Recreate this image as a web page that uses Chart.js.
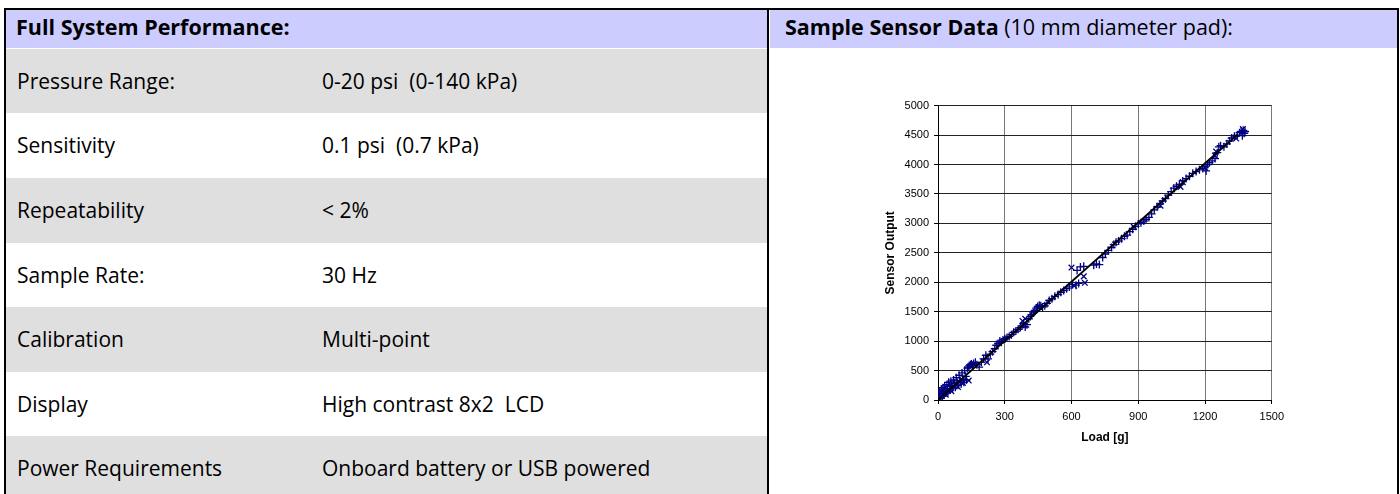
<!DOCTYPE html>
<html>
<head>
<meta charset="utf-8">
<script src="https://cdn.jsdelivr.net/npm/chart.js@4.4.1/dist/chart.umd.min.js"></script>
<style>
  html, body { margin: 0; padding: 0; background: #fff; }
  body { width: 1400px; height: 494px; position: relative; overflow: hidden; font-family: "Open Sans", "DejaVu Sans", sans-serif; color: #000; }
  .abs { position: absolute; }
  .hdr { background: #ccccff; }
  .gray { background: #dfdfdf; }
  .row { position: absolute; left: 6px; width: 761px; }
  .lbl, .val { position: absolute; font-size: 21px; line-height: 1; white-space: pre; }
  .lbl { left: 17px; }
  .val { left: 322px; }
  .line { position: absolute; background: #000; }
  .htxt { position: absolute; font-size: 21.5px; line-height: 1; white-space: pre; top: 16px; }
</style>
</head>
<body>
<div class="row hdr" style="top:10px;height:38px;"></div>
<div class="abs hdr" style="left:770px;top:10px;width:627px;height:38px;"></div>
<div class="htxt" style="left:16px;font-weight:700;">Full System Performance:</div>
<div class="htxt" style="left:785px;"><b>Sample Sensor Data</b> (10 mm diameter pad):</div>
<div id="rows"></div>

<div class="line" style="left:4px;top:8px;width:1395px;height:2px;"></div>
<div class="line" style="left:4px;top:8px;width:2px;height:486px;"></div>
<div class="line" style="left:767px;top:8px;width:2px;height:486px;"></div>
<div class="line" style="left:1397px;top:8px;width:2px;height:486px;"></div>

<div class="abs" style="left:870px;top:94px;width:420px;height:360px;">
  <canvas id="c" width="420" height="360"></canvas>
</div>

<script>
// ---- table content ----
const specLabels = ["Pressure Range:", "Sensitivity", "Repeatability", "Sample Rate:", "Calibration", "Display", "Power Requirements"];
const specValues = ["0-20 psi  (0-140 kPa)", "0.1 psi  (0.7 kPa)", "< 2%", "30 Hz", "Multi-point", "High contrast 8x2  LCD", "Onboard battery or USB powered"];

// ---- chart data (Load [g] vs Sensor Output) ----
const loadPlus = [0, 2, 3, 5, 8, 10, 12, 15, 18, 20, 22, 25, 28, 30, 33, 36, 40, 42, 45, 48, 52, 55, 58, 62, 66, 70, 74, 78, 82, 86, 90, 95, 100, 104, 108, 112, 116, 120, 125, 128, 132, 136, 140, 145, 150, 155, 160, 168, 175, 185, 195, 205, 215, 225, 235, 245, 255, 262, 270, 278, 285, 292, 300, 310, 320, 330, 340, 350, 360, 370, 378, 385, 392, 400, 408, 415, 420, 428, 435, 442, 448, 455, 462, 470, 480, 490, 500, 512, 525, 540, 552, 565, 578, 590, 605, 625, 640, 655, 620, 632, 700, 712, 725, 740, 752, 765, 780, 790, 800, 812, 825, 838, 850, 862, 875, 888, 900, 912, 925, 935, 948, 960, 972, 985, 998, 1010, 1022, 1035, 1048, 1060, 1072, 1085, 1100, 1115, 1130, 1145, 1160, 1175, 1190, 1200, 1205, 1212, 1220, 1232, 1245, 1255, 1262, 1270, 1285, 1298, 1310, 1320, 1332, 1345, 1355, 1362, 1368, 1372, 1376, 1380];
const outputPlus = [20, 60, 110, 40, 150, 90, 30, 180, 120, 60, 210, 150, 90, 240, 170, 120, 260, 190, 140, 300, 230, 170, 320, 250, 200, 340, 280, 215, 380, 300, 250, 420, 330, 270, 460, 360, 300, 500, 400, 340, 540, 560, 580, 600, 610, 590, 620, 640, 600, 560, 640, 700, 760, 700, 780, 820, 870, 930, 960, 1000, 980, 1020, 1040, 1060, 1080, 1110, 1150, 1170, 1200, 1230, 1260, 1300, 1240, 1280, 1380, 1420, 1450, 1480, 1520, 1560, 1590, 1610, 1600, 1580, 1600, 1640, 1690, 1720, 1760, 1790, 1830, 1860, 1890, 1920, 1960, 2200, 2260, 2270, 1950, 1980, 2290, 2310, 2300, 2420, 2480, 2540, 2590, 2640, 2680, 2700, 2740, 2780, 2800, 2860, 2900, 2950, 2990, 3010, 3040, 3070, 3100, 3160, 3230, 3280, 3330, 3380, 3420, 3480, 3540, 3600, 3630, 3660, 3720, 3760, 3800, 3850, 3880, 3910, 3930, 3960, 3890, 4000, 4030, 4060, 4100, 4200, 4300, 4320, 4300, 4350, 4400, 4450, 4480, 4500, 4540, 4560, 4490, 4580, 4530, 4560];
const loadCross = [35, 60, 90, 112, 138, 220, 380, 392, 455, 600, 655, 660, 612, 880, 1000, 1090, 1100, 1200, 1245, 1250, 1340, 1370];
const outputCross = [90, 150, 220, 290, 330, 640, 1343, 1380, 1580, 2250, 2100, 1990, 1940, 2940, 3300, 3620, 3700, 3950, 4150, 4220, 4440, 4600];
const trendLoad = [0, 1345];
const trendOutput = [0, 4505];
const xTickValues = [0, 300, 600, 900, 1200, 1500];
const yTickValues = [0, 500, 1000, 1500, 2000, 2500, 3000, 3500, 4000, 4500, 5000];

// build table rows
const rowTops = [49, 113, 178, 243, 307, 372, 436];
const rowsEl = document.getElementById('rows');
specLabels.forEach((lab, i) => {
  const top = rowTops[i];
  const h = (i + 1 < rowTops.length ? rowTops[i + 1] : 494) - top;
  const r = document.createElement('div');
  r.className = 'row' + (i % 2 === 0 ? ' gray' : '');
  r.style.top = top + 'px';
  r.style.height = h + 'px';
  rowsEl.appendChild(r);
  const ty = top + 22;
  const l = document.createElement('div');
  l.className = 'lbl'; l.style.top = ty + 'px'; l.textContent = lab;
  const v = document.createElement('div');
  v.className = 'val'; v.style.top = ty + 'px'; v.textContent = specValues[i];
  rowsEl.appendChild(l); rowsEl.appendChild(v);
});

const toPts = (xs, ys) => xs.map((x, i) => ({x: x, y: ys[i]}));
const tickFont = {family: "'Liberation Sans', Arial, sans-serif", size: 11};
const titleFont = {family: "'Liberation Sans', Arial, sans-serif", size: 12, weight: 'bold'};

new Chart(document.getElementById('c'), {
  type: 'scatter',
  data: {
    datasets: [
      {
        type: 'line',
        data: toPts(trendLoad, trendOutput),
        borderColor: '#000',
        borderWidth: 1.8,
        pointRadius: 0,
        fill: false,
        order: 0
      },
      {
        data: toPts(loadPlus, outputPlus),
        pointStyle: 'cross',
        pointRadius: 4,
        borderColor: '#000080',
        backgroundColor: '#000080',
        pointBorderWidth: 1.3,
        order: 1
      },
      {
        data: toPts(loadCross, outputCross),
        pointStyle: 'crossRot',
        pointRadius: 4,
        borderColor: '#000080',
        backgroundColor: '#000080',
        pointBorderWidth: 1.3,
        order: 1
      }
    ]
  },
  options: {
    responsive: false,
    animation: false,
    devicePixelRatio: 1,
    layout: {padding: {top: 10, right: 15, left: 0, bottom: 0}},
    plugins: {legend: {display: false}, tooltip: {enabled: false}},
    scales: {
      x: {
        type: 'linear', min: 0, max: 1500,
        afterBuildTicks: s => { s.ticks = xTickValues.map(v => ({value: v})); },
        afterFit: s => { s.height = 54; },
        ticks: {font: tickFont, color: '#000', padding: 6, maxRotation: 0, callback: v => String(v)},
        grid: {color: '#777', lineWidth: 1, tickLength: 4, tickColor: '#000'},
        border: {color: '#000', width: 1},
        title: {display: true, text: 'Load [g]', font: titleFont, color: '#000', padding: {top: 0, bottom: 9}}
      },
      y: {
        type: 'linear', min: 0, max: 5000,
        afterBuildTicks: s => { s.ticks = yTickValues.map(v => ({value: v})); },
        afterFit: s => { s.width = 68; },
        ticks: {font: tickFont, color: '#000', padding: 5, callback: v => String(v)},
        grid: {color: '#222', lineWidth: 1, tickLength: 4, tickColor: '#000'},
        border: {color: '#000', width: 1},
        title: {display: true, text: 'Sensor Output', font: titleFont, color: '#000', padding: {top: 13, bottom: 0}}
      }
    }
  }
});
</script>
</body>
</html>
